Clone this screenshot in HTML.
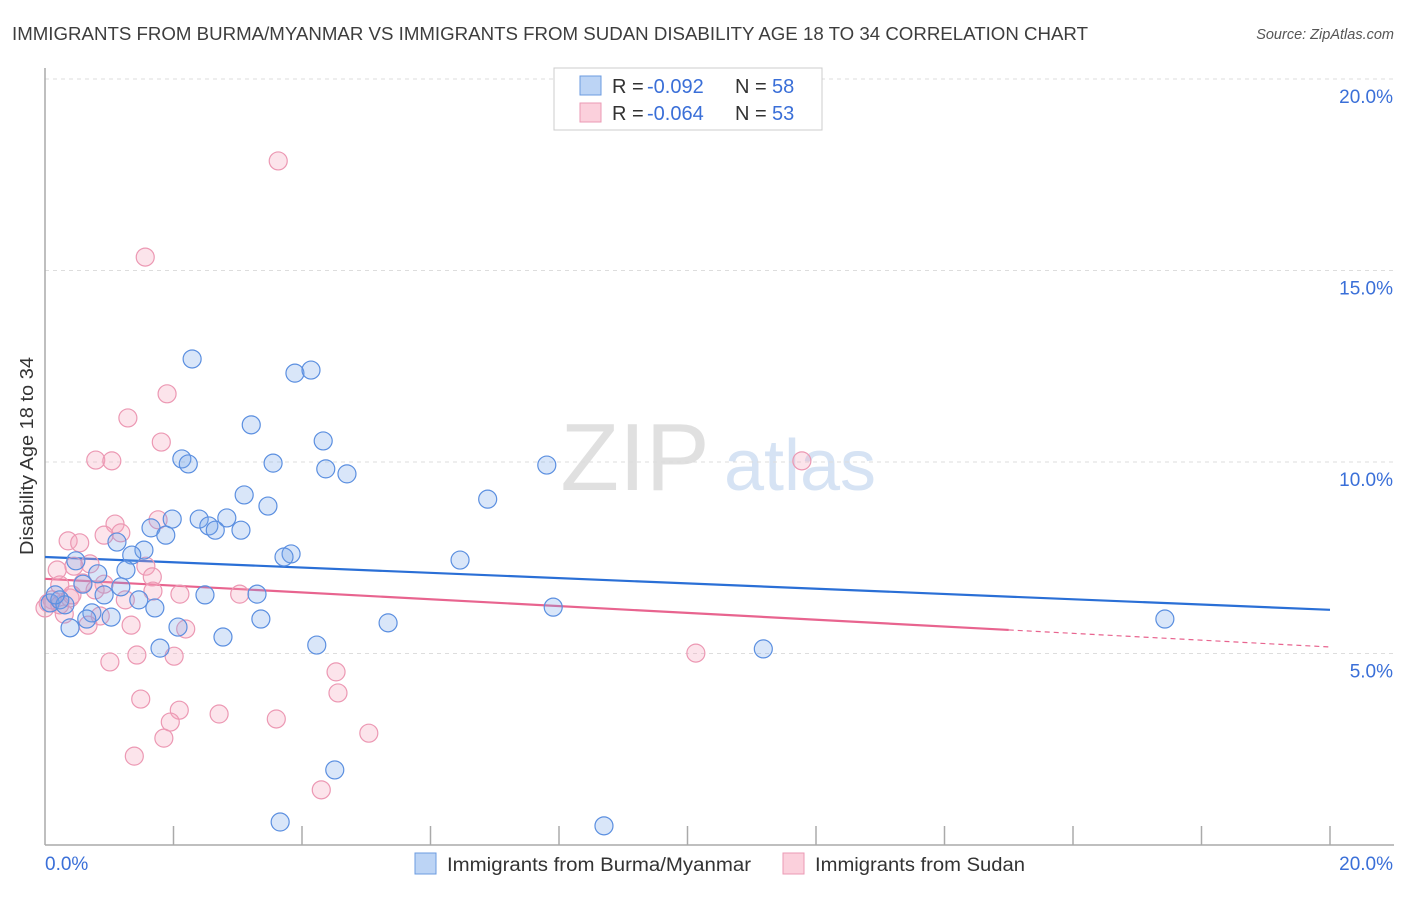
<!DOCTYPE html>
<html><head><meta charset="utf-8"><style>
body{margin:0;background:#fff;font-family:"Liberation Sans",sans-serif;}
svg text{font-family:"Liberation Sans",sans-serif;}
</style></head><body>
<svg id="chart" width="1406" height="892" xmlns="http://www.w3.org/2000/svg">
<text x="12" y="40" font-size="18" fill="#3d3d3d" textLength="1076" lengthAdjust="spacingAndGlyphs">IMMIGRANTS FROM BURMA/MYANMAR VS IMMIGRANTS FROM SUDAN DISABILITY AGE 18 TO 34 CORRELATION CHART</text>
<text x="1394" y="39" font-size="14.5" fill="#555" font-style="italic" text-anchor="end">Source: ZipAtlas.com</text>
<g><text x="635" y="490" font-size="96" fill="#e0e0e0" font-family="Liberation Serif" text-anchor="middle">ZIP</text><text x="800" y="490" font-size="72" fill="#d6e3f4" text-anchor="middle">atlas</text></g>
<g id="grid"></g><g id="axes"></g><g id="trend"></g><g id="points"></g>
<text x="33" y="456" font-size="18" fill="#333" text-anchor="middle" textLength="198" lengthAdjust="spacingAndGlyphs" transform="rotate(-90 33 456)">Disability Age 18 to 34</text>
<g>
<rect x="554" y="68" width="268" height="62" fill="#fff" stroke="#ccc"/>
<rect x="580" y="76" width="21" height="19" fill="#bcd4f5" stroke="#6b9be0"/>
<rect x="580" y="103" width="21" height="19" fill="#fbd0dc" stroke="#eb9ab4"/>
<text x="612" y="93" font-size="20" fill="#333">R = <tspan x="647" fill="#3a6fd8">-0.092</tspan><tspan x="735">N = </tspan><tspan x="772" fill="#3a6fd8">58</tspan></text>
<text x="612" y="120" font-size="20" fill="#333">R = <tspan x="647" fill="#3a6fd8">-0.064</tspan><tspan x="735">N = </tspan><tspan x="772" fill="#3a6fd8">53</tspan></text>
</g>
<g>
<rect x="415" y="853" width="21" height="21" fill="#bcd4f5" stroke="#6b9be0"/>
<text x="447" y="871" font-size="19" fill="#333" textLength="304" lengthAdjust="spacingAndGlyphs">Immigrants from Burma/Myanmar</text>
<rect x="783" y="853" width="21" height="21" fill="#fbd0dc" stroke="#eb9ab4"/>
<text x="815" y="871" font-size="19" fill="#333" textLength="210" lengthAdjust="spacingAndGlyphs">Immigrants from Sudan</text>
</g>
</svg>
<script>
const yTicks=[5,10,15,20];
const yTickLabels=["5.0%","10.0%","15.0%","20.0%"];
const xTicks=[0,2,4,6,8,10,12,14,16,18,20];
const xLabels=["0.0%","20.0%"];
const blueX=[2.29,3.89,4.14,3.21,4.33,2.13,2.23,3.55,4.37,4.70,7.81,6.89,3.10,3.47,1.98,2.40,2.83,2.55,2.65,3.05,1.65,1.88,1.12,1.54,1.35,3.83,3.72,6.46,1.26,0.82,0.48,0.59,1.18,0.92,1.46,2.49,3.30,1.71,7.91,0.73,1.03,0.65,3.36,5.34,17.43,0.39,2.07,2.77,4.23,1.79,11.18,4.51,3.66,8.70,0.08,0.23,0.31,0.16];
const blueY=[12.69,12.32,12.40,10.97,10.55,10.08,9.95,9.97,9.82,9.69,9.92,9.03,9.14,8.85,8.51,8.51,8.54,8.33,8.22,8.22,8.28,8.09,7.91,7.70,7.57,7.60,7.52,7.44,7.18,7.08,7.42,6.81,6.74,6.53,6.40,6.53,6.55,6.19,6.21,6.06,5.95,5.90,5.90,5.80,5.90,5.67,5.69,5.43,5.22,5.14,5.12,1.96,0.60,0.50,6.32,6.40,6.27,6.53];
const pinkX=[3.63,1.56,1.90,1.29,1.81,0.79,1.04,11.78,1.09,1.76,1.18,0.92,0.36,0.54,0.19,0.70,0.45,1.57,1.67,0.59,0.23,0.92,1.68,2.10,3.03,0.39,0.05,1.25,0.86,0.30,0.67,1.34,2.19,10.13,1.43,1.01,2.01,4.53,4.56,1.49,2.09,2.71,3.60,1.95,5.04,1.85,1.39,4.30,0.11,0.23,0.78,0.00,0.42];
const pinkY=[17.86,15.35,11.78,11.15,10.52,10.05,10.03,10.03,8.38,8.49,8.15,8.09,7.94,7.89,7.18,7.34,7.28,7.28,7.00,6.84,6.79,6.81,6.63,6.55,6.55,6.45,6.32,6.40,5.98,6.03,5.74,5.74,5.64,5.01,4.96,4.78,4.93,4.52,3.97,3.81,3.52,3.42,3.29,3.21,2.92,2.79,2.32,1.44,6.40,6.27,6.66,6.19,6.53];
const blueTrend=[7.52,6.14];
const pinkTrend=[6.95,5.17];
const pinkSolidEnd=15;

const NS="http://www.w3.org/2000/svg";
const X0=45,X1=1330,Y0=845,Y20=79;
const sx=v=>X0+(X1-X0)*v/20;
const sy=v=>Y0-(Y0-Y20)*v/20;
function mk(tag,attrs,parent){const e=document.createElementNS(NS,tag);for(const k in attrs)e.setAttribute(k,attrs[k]);parent.appendChild(e);return e;}
const grid=document.getElementById('grid'),axes=document.getElementById('axes'),trend=document.getElementById('trend'),pts=document.getElementById('points');
yTicks.forEach((t,i)=>{
  const l=mk('line',{x1:X0,x2:1394,y1:sy(t),y2:sy(t),stroke:'#ddd','stroke-dasharray':'4,4'},grid);
  
  
  const tx=mk('text',{x:1393,y:sy(t)+24,'font-size':19,fill:'#3a6fd8','text-anchor':'end'},grid);
  tx.textContent=yTickLabels[i];
  
  
});
const ya=mk('line',{x1:X0,x2:X0,y1:68,y2:Y0,stroke:'#aaa','stroke-width':1.5},axes);


const xa=mk('line',{x1:X0,x2:1394,y1:Y0,y2:Y0,stroke:'#aaa','stroke-width':1.5},axes);


xTicks.slice(1).forEach(t=>{
  const l=mk('line',{x1:sx(t),x2:sx(t),y1:Y0,y2:Y0-19,stroke:'#aaa','stroke-width':1.5},axes);
  
  
});
const xl0=mk('text',{x:45,y:870,'font-size':19,fill:'#3a6fd8'},axes);xl0.textContent=xLabels[0];


const xl1=mk('text',{x:1393,y:870,'font-size':19,fill:'#3a6fd8','text-anchor':'end'},axes);xl1.textContent=xLabels[1];



function drawPts(xs,ys,fill,stroke,name){
  xs.forEach((x,i)=>{
    const c=mk('circle',{cx:sx(x),cy:sy(ys[i]),r:9,fill:fill,stroke:stroke,'stroke-width':1.2},pts);
    
    
  });
}
drawPts(pinkX,pinkY,'rgba(245,165,190,0.3)','#ec98b3','point-sudan');
drawPts(blueX,blueY,'rgba(120,165,235,0.28)','#5b8fe0','point-burma');

const bt=mk('line',{x1:sx(0),y1:sy(blueTrend[0]),x2:sx(20),y2:sy(blueTrend[1]),stroke:'#2a6fd6','stroke-width':2.2},trend);


const pAt=v=>pinkTrend[0]+(pinkTrend[1]-pinkTrend[0])*v/20;
const pt=mk('line',{x1:sx(0),y1:sy(pAt(0)),x2:sx(pinkSolidEnd),y2:sy(pAt(pinkSolidEnd)),stroke:'#e8648f','stroke-width':2.2},trend);


const pd=mk('line',{x1:sx(pinkSolidEnd),y1:sy(pAt(pinkSolidEnd)),x2:sx(20),y2:sy(pAt(20)),stroke:'#e8648f','stroke-width':1.2,'stroke-dasharray':'5,4'},trend);


</script>
</body></html>
